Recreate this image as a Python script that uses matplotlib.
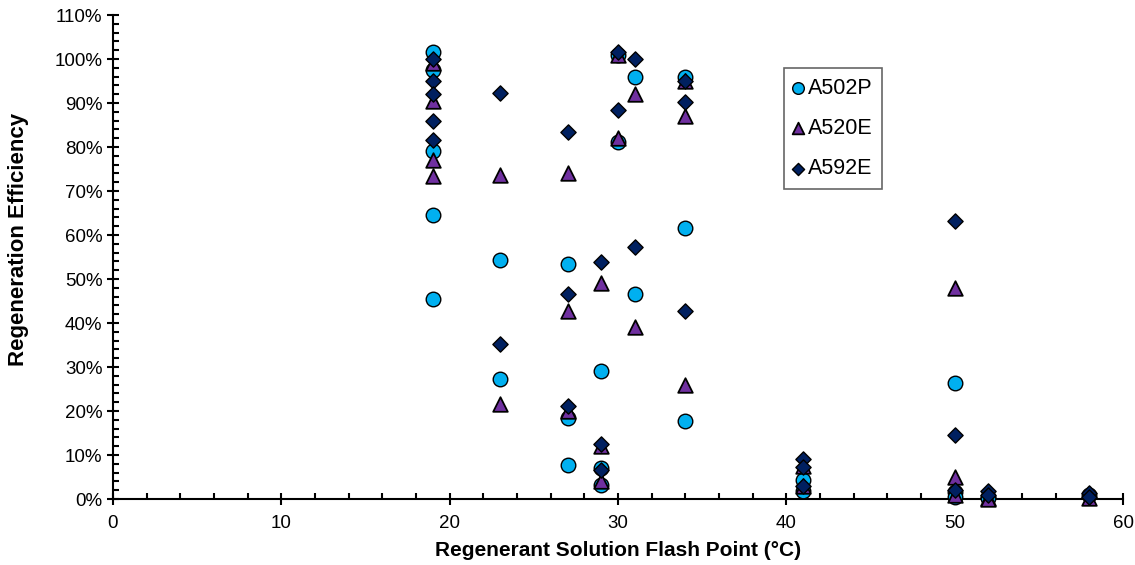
import matplotlib.pyplot as plt
from matplotlib.ticker import MultipleLocator, FuncFormatter

plt.rcParams['font.family'] = ['Liberation Sans', 'DejaVu Sans']

# Flash point (°C) and regeneration efficiency (%) per resin
a502p_x = [19, 19, 19, 19, 19, 23, 23, 27, 27, 27, 29, 29, 29, 30, 30, 31, 31,
           34, 34, 34, 41, 41, 50, 50, 50, 52, 52, 58]
a502p_y = [101.5, 97.5, 79, 64.5, 45.5, 54.3, 27.2, 53.5, 18.5, 7.8, 29, 7, 3.2,
           100.8, 81.2, 96, 46.5, 95.8, 61.5, 17.8, 4.3, 1.8, 26.3, 1.5, 0.5,
           0.5, 0.2, 0.8]

a520e_x = [19, 19, 19, 19, 23, 23, 27, 27, 27, 29, 29, 29, 30, 30, 31, 31,
           34, 34, 34, 41, 41, 50, 50, 50, 52, 52, 58]
a520e_y = [99, 90.5, 77, 73.5, 73.7, 21.7, 74, 42.7, 20, 49, 12, 4, 101, 82,
           92, 39, 95, 87, 26, 7.5, 3, 48, 5, 1, 0.3, 0, 0.3]

a592e_x = [19, 19, 19, 19, 19, 23, 23, 27, 27, 27, 29, 29, 29, 30, 30, 31, 31,
           34, 34, 34, 41, 41, 41, 50, 50, 50, 52, 52, 58, 58]
a592e_y = [100, 95, 92, 86, 81.5, 92.2, 35.2, 83.3, 46.7, 21.2, 53.8, 12.5, 6.5,
           101.5, 88.5, 100, 57.2, 95, 90.2, 42.8, 9, 7.2, 3, 63.2, 14.5, 2,
           1.8, 0.8, 1.3, 0.5]

fig = plt.figure(figsize=(11.35, 5.65), dpi=100)
ax = fig.add_axes([113 / 1135, 66 / 565, 1010 / 1135, 484 / 565])

ax.scatter(a502p_x, a502p_y, marker='o', s=110, facecolor='#00B0F0',
           edgecolor='black', linewidth=1, label='A502P', clip_on=False, zorder=3)
ax.scatter(a520e_x, a520e_y, marker='^', s=110, facecolor='#7030A0',
           edgecolor='black', linewidth=1.3, label='A520E', clip_on=False, zorder=4)
ax.scatter(a592e_x, a592e_y, marker='D', s=60, facecolor='#002060',
           edgecolor='black', linewidth=1, label='A592E', clip_on=False, zorder=5)

ax.set_xlim(0, 60)
ax.set_ylim(0, 110)
ax.xaxis.set_major_locator(MultipleLocator(10))
ax.xaxis.set_minor_locator(MultipleLocator(2))
ax.yaxis.set_major_locator(MultipleLocator(10))
ax.yaxis.set_minor_locator(MultipleLocator(2))
ax.yaxis.set_major_formatter(FuncFormatter(lambda v, p: f"{v:.0f}%"))

for side in ['top', 'right']:
    ax.spines[side].set_visible(False)
for side in ['left', 'bottom']:
    ax.spines[side].set_linewidth(1.5)

ax.tick_params(which='major', direction='inout', length=9, width=1.5,
               labelsize=13.5)
ax.tick_params(axis='x', which='major', pad=7)
ax.tick_params(axis='y', which='major', pad=3)
ax.tick_params(which='minor', direction='in', length=4, width=1.5)

ax.set_xlabel("Regenerant Solution Flash Point (°C)", fontsize=15,
              fontweight='bold')
ax.set_ylabel("Regeneration Efficiency", fontsize=16, fontweight='bold')
ax.xaxis.set_label_coords(0.5, -0.086)
ax.yaxis.set_label_coords(-0.083, 0.537)

leg = ax.legend(loc='upper left', bbox_to_anchor=(671 / 1010, 1 - 53 / 484),
                fontsize=15.5, frameon=True, fancybox=False, edgecolor='#404040',
                labelspacing=0.9, handletextpad=0.27, borderpad=0.45,
                handlelength=0.4, markerscale=0.8, borderaxespad=0)
leg.get_frame().set_linewidth(1.2)

fig.savefig("out.png", dpi=100)
